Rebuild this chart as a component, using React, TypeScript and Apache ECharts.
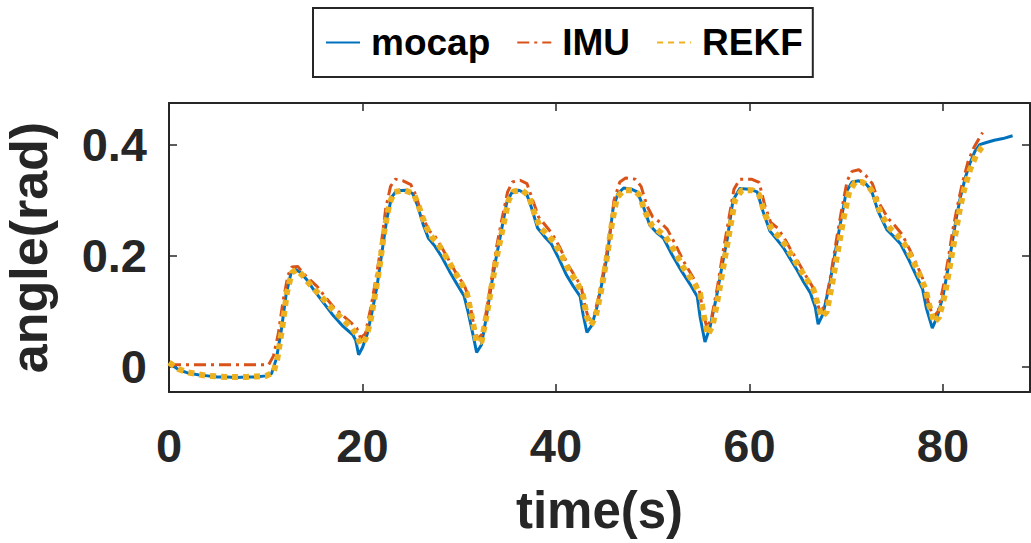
import React, { useEffect, useRef } from "react";
import * as echarts from "echarts";

// Joint angle traces: [time (s), angle (rad)]
const mocap: [number, number][] = [
  [0, 0.007], [1, -0.005], [2, -0.011], [3, -0.014], [4, -0.016], [5, -0.018], [6, -0.018],
  [7, -0.019], [8, -0.018], [9, -0.018], [10, -0.016], [10.6, -0.012], [11.1, 0.015],
  [11.6, 0.065], [12.1, 0.13], [12.6, 0.168], [13.0, 0.176], [13.6, 0.17], [14.2, 0.158],
  [15.0, 0.138], [16.0, 0.115], [17.0, 0.092], [18.0, 0.073], [19.0, 0.058], [19.3, 0.048],
  [19.6, 0.022], [20.0, 0.035], [20.5, 0.06], [21.0, 0.1], [21.5, 0.145], [22.0, 0.205],
  [22.5, 0.265], [23.0, 0.305], [23.5, 0.317], [24.5, 0.318], [25.2, 0.312], [25.7, 0.29],
  [26.3, 0.255], [26.8, 0.232], [27.5, 0.217], [28.2, 0.198], [29.0, 0.172], [29.8, 0.148],
  [30.5, 0.128], [30.9, 0.1], [31.4, 0.06], [31.8, 0.026], [32.3, 0.04], [32.8, 0.09],
  [33.3, 0.145], [33.8, 0.195], [34.3, 0.24], [34.9, 0.295], [35.4, 0.313], [36.2, 0.318],
  [37.0, 0.31], [37.5, 0.285], [38.1, 0.25], [38.8, 0.235], [39.5, 0.222], [40.3, 0.195],
  [41.1, 0.165], [41.8, 0.145], [42.5, 0.127], [42.8, 0.095], [43.2, 0.062], [43.7, 0.075],
  [44.2, 0.105], [44.8, 0.155], [45.3, 0.2], [45.9, 0.285], [46.4, 0.312], [47.0, 0.322],
  [47.8, 0.32], [48.4, 0.315], [49.0, 0.29], [49.7, 0.255], [50.4, 0.242], [51.1, 0.232],
  [52.0, 0.202], [53.0, 0.172], [54.0, 0.145], [54.6, 0.127], [54.9, 0.09], [55.4, 0.045],
  [55.9, 0.07], [56.6, 0.127], [57.2, 0.185], [57.7, 0.23], [58.3, 0.3], [59.0, 0.321],
  [60.0, 0.32], [60.8, 0.315], [61.4, 0.28], [62.1, 0.245], [62.8, 0.23], [63.5, 0.215],
  [64.2, 0.195], [64.9, 0.175], [65.6, 0.153], [66.3, 0.133], [66.8, 0.108], [67.1, 0.077],
  [67.6, 0.095], [68.3, 0.15], [68.9, 0.21], [69.4, 0.258], [70.0, 0.315], [70.6, 0.333],
  [71.3, 0.335], [72.0, 0.33], [72.6, 0.318], [73.3, 0.28], [74.2, 0.247], [74.9, 0.235],
  [75.6, 0.222], [76.5, 0.192], [77.3, 0.162], [77.9, 0.14], [78.3, 0.105], [78.9, 0.07],
  [79.4, 0.09], [80.0, 0.127], [80.5, 0.175], [81.0, 0.228], [81.4, 0.27], [81.8, 0.305],
  [82.3, 0.34], [82.8, 0.367], [83.3, 0.388], [83.8, 0.4], [84.5, 0.404], [85.3, 0.408],
  [86.2, 0.411], [87.2, 0.416],
];

const imu: [number, number][] = [
  [0, 0.004], [2, 0.004], [4, 0.004], [6, 0.004], [8, 0.004], [10.3, 0.004], [10.8, 0.02],
  [11.3, 0.06], [11.8, 0.12], [12.3, 0.165], [12.7, 0.18], [13.3, 0.181], [13.9, 0.168],
  [14.5, 0.158], [15.3, 0.145], [16.2, 0.125], [17.0, 0.108], [18.0, 0.092], [18.8, 0.08],
  [19.4, 0.07], [19.8, 0.052], [20.3, 0.06], [20.9, 0.11], [21.4, 0.16], [21.9, 0.215],
  [22.4, 0.285], [22.9, 0.325], [23.4, 0.338], [24.2, 0.335], [25.0, 0.328], [25.5, 0.31],
  [26.2, 0.27], [26.9, 0.245], [27.5, 0.235], [28.2, 0.215], [29.0, 0.19], [29.8, 0.165],
  [30.5, 0.148], [31.0, 0.125], [31.5, 0.075], [31.9, 0.05], [32.4, 0.06], [32.9, 0.11],
  [33.4, 0.165], [33.9, 0.22], [34.4, 0.265], [35.0, 0.315], [35.5, 0.333], [36.3, 0.336],
  [37.0, 0.33], [37.6, 0.3], [38.2, 0.27], [38.9, 0.255], [39.6, 0.24], [40.4, 0.215],
  [41.2, 0.185], [41.9, 0.165], [42.6, 0.145], [43.0, 0.11], [43.4, 0.085], [43.9, 0.09],
  [44.4, 0.125], [45.0, 0.18], [45.5, 0.23], [46.0, 0.3], [46.6, 0.333], [47.2, 0.34],
  [48.2, 0.338], [48.8, 0.325], [49.4, 0.29], [50.0, 0.27], [50.8, 0.26], [51.5, 0.248],
  [52.3, 0.222], [53.2, 0.19], [54.2, 0.16], [54.8, 0.14], [55.2, 0.1], [55.6, 0.07],
  [56.1, 0.09], [56.7, 0.145], [57.3, 0.21], [57.8, 0.26], [58.4, 0.32], [59.0, 0.338],
  [60.2, 0.338], [61.0, 0.332], [61.6, 0.29], [62.2, 0.26], [62.9, 0.25], [63.6, 0.232],
  [64.3, 0.21], [65.0, 0.19], [65.8, 0.165], [66.5, 0.145], [66.9, 0.12], [67.3, 0.1],
  [67.8, 0.11], [68.4, 0.165], [69.0, 0.23], [69.5, 0.28], [70.1, 0.335], [70.6, 0.352],
  [71.3, 0.355], [72.0, 0.345], [72.7, 0.33], [73.4, 0.295], [74.3, 0.268], [75.0, 0.255],
  [75.8, 0.238], [76.6, 0.21], [77.4, 0.18], [78.0, 0.155], [78.5, 0.115], [79.0, 0.09],
  [79.5, 0.1], [80.1, 0.15], [80.6, 0.2], [81.0, 0.245], [81.5, 0.29], [82.0, 0.33],
  [82.6, 0.37], [83.2, 0.395], [83.7, 0.41], [84.1, 0.422],
];

const rekf: [number, number][] = [
  [0, 0.008], [1, -0.004], [2, -0.01], [3, -0.013], [4, -0.016], [5, -0.017], [6, -0.018],
  [7, -0.018], [8, -0.018], [9, -0.017], [10, -0.016], [10.8, -0.01], [11.2, 0.015],
  [11.7, 0.07], [12.2, 0.135], [12.7, 0.17], [13.2, 0.175], [13.8, 0.165], [14.5, 0.15],
  [15.3, 0.135], [16.2, 0.118], [17.0, 0.102], [18.0, 0.085], [18.8, 0.072], [19.4, 0.058],
  [19.8, 0.04], [20.3, 0.05], [20.8, 0.08], [21.3, 0.13], [21.8, 0.185], [22.3, 0.25],
  [22.8, 0.295], [23.3, 0.315], [24.3, 0.318], [25.3, 0.312], [25.8, 0.29], [26.5, 0.255],
  [27.1, 0.235], [27.8, 0.222], [28.5, 0.202], [29.3, 0.178], [30.1, 0.155], [30.8, 0.132],
  [31.3, 0.09], [31.8, 0.045], [32.3, 0.045], [32.9, 0.1], [33.4, 0.15], [33.9, 0.2],
  [34.5, 0.25], [35.1, 0.3], [35.6, 0.316], [36.5, 0.318], [37.2, 0.308], [37.8, 0.275],
  [38.4, 0.25], [39.1, 0.238], [39.8, 0.225], [40.6, 0.2], [41.4, 0.172], [42.2, 0.152],
  [42.8, 0.128], [43.2, 0.09], [43.6, 0.075], [44.1, 0.09], [44.7, 0.14], [45.2, 0.19],
  [45.8, 0.26], [46.3, 0.305], [47.0, 0.318], [48.0, 0.318], [48.6, 0.31], [49.2, 0.28],
  [49.9, 0.255], [50.6, 0.245], [51.3, 0.235], [52.2, 0.21], [53.2, 0.178], [54.2, 0.153],
  [54.9, 0.132], [55.3, 0.09], [55.7, 0.058], [56.2, 0.075], [56.8, 0.13], [57.4, 0.19],
  [57.9, 0.24], [58.5, 0.3], [59.2, 0.318], [60.3, 0.318], [61.0, 0.31], [61.6, 0.275],
  [62.3, 0.248], [63.0, 0.235], [63.7, 0.22], [64.4, 0.2], [65.1, 0.18], [65.9, 0.158],
  [66.6, 0.14], [67.1, 0.11], [67.5, 0.09], [68.0, 0.1], [68.6, 0.155], [69.2, 0.215],
  [69.7, 0.265], [70.3, 0.315], [70.9, 0.332], [71.6, 0.333], [72.3, 0.326], [72.9, 0.31],
  [73.6, 0.275], [74.5, 0.25], [75.2, 0.238], [76.0, 0.222], [76.8, 0.195], [77.6, 0.165],
  [78.2, 0.14], [78.6, 0.11], [79.1, 0.08], [79.6, 0.09], [80.2, 0.13], [80.7, 0.18],
  [81.2, 0.23], [81.7, 0.28], [82.2, 0.32], [82.8, 0.355], [83.4, 0.38], [84.0, 0.395],
  [84.3, 0.4],
];

const xTicks = [0, 20, 40, 60, 80];
const yTicks = [0, 0.2, 0.4];
const xRange = [0, 89];
const yRange = [-0.045, 0.475];

const FONT = '"Liberation Sans", Arial, Helvetica, sans-serif';
const AXIS_COLOR = "#262626";

export default function App() {
  const ref = useRef<HTMLDivElement>(null);

  useEffect(() => {
    if (!ref.current) return;
    const chart = echarts.init(ref.current, null, { renderer: "svg" });

    const axisLine = { show: true, onZero: false, lineStyle: { color: AXIS_COLOR, width: 2 } };
    const tickStyle = { color: AXIS_COLOR, width: 1.5 };

    chart.setOption({
      animation: false,
      backgroundColor: "#ffffff",
      textStyle: { fontFamily: FONT },
      grid: {
        left: 169,
        right: 1,
        top: 103,
        bottom: 151,
        containLabel: false,
        outerBoundsMode: "none",
      },
      legend: {
        left: 313,
        top: 8,
        padding: [16, 10, 16, 12],
        itemGap: 26,
        itemWidth: 34,
        itemHeight: 14,
        borderColor: AXIS_COLOR,
        borderWidth: 2,
        backgroundColor: "#ffffff",
        itemStyle: { opacity: 0 },
        textStyle: {
          fontFamily: FONT,
          fontWeight: "bold",
          fontSize: 37,
          color: "#000000",
          padding: [0, 0, 0, 6],
        },
        data: ["mocap", "IMU", "REKF"],
      },
      xAxis: [
        {
          type: "value",
          min: xRange[0],
          max: xRange[1],
          name: "time(s)",
          nameLocation: "middle",
          nameGap: 93,
          nameTextStyle: { fontFamily: FONT, fontWeight: "bold", fontSize: 51, color: AXIS_COLOR },
          axisLine,
          axisTick: { show: true, inside: true, length: 8, lineStyle: tickStyle, customValues: xTicks },
          axisLabel: {
            show: true,
            margin: 30,
            fontFamily: FONT,
            fontWeight: "bold",
            fontSize: 47,
            color: AXIS_COLOR,
            customValues: xTicks,
            formatter: (v: number) => String(v),
          },
          splitLine: { show: false },
        },
        {
          type: "value",
          position: "top",
          min: xRange[0],
          max: xRange[1],
          axisLine,
          axisTick: { show: true, inside: true, length: 8, lineStyle: tickStyle, customValues: xTicks },
          axisLabel: { show: false },
          splitLine: { show: false },
        },
      ],
      yAxis: [
        {
          type: "value",
          min: yRange[0],
          max: yRange[1],
          name: "angle(rad)",
          nameLocation: "middle",
          nameGap: 114,
          nameRotate: 90,
          nameTextStyle: { fontFamily: FONT, fontWeight: "bold", fontSize: 52, color: AXIS_COLOR },
          axisLine,
          axisTick: { show: true, inside: true, length: 8, lineStyle: tickStyle, customValues: yTicks },
          axisLabel: {
            show: true,
            margin: 22,
            fontFamily: FONT,
            fontWeight: "bold",
            fontSize: 47,
            color: AXIS_COLOR,
            customValues: yTicks,
            formatter: (v: number) => String(Math.round(v * 10) / 10),
          },
          splitLine: { show: false },
        },
        {
          type: "value",
          position: "right",
          min: yRange[0],
          max: yRange[1],
          axisLine,
          axisTick: { show: true, inside: true, length: 8, lineStyle: tickStyle, customValues: yTicks },
          axisLabel: { show: false },
          splitLine: { show: false },
        },
      ],
      series: [
        {
          name: "mocap",
          type: "line",
          data: mocap,
          symbol: "none",
          xAxisIndex: 0,
          yAxisIndex: 0,
          color: "#0072BD",
          lineStyle: { color: "#0072BD", width: 3 },
        },
        {
          name: "IMU",
          type: "line",
          data: imu,
          symbol: "none",
          xAxisIndex: 0,
          yAxisIndex: 0,
          color: "#D95319",
          lineStyle: { color: "#D95319", width: 3, type: [12, 5, 3, 5] },
        },
        {
          name: "REKF",
          type: "line",
          data: rekf,
          symbol: "none",
          xAxisIndex: 0,
          yAxisIndex: 0,
          color: "#EDB120",
          lineStyle: { color: "#EDB120", width: 6, type: [6, 5] },
        },
      ],
    });

    return () => chart.dispose();
  }, []);

  return (
    <div
      ref={ref}
      style={{ position: "fixed", left: 0, top: 0, width: 1031, height: 543, background: "#fff" }}
    />
  );
}
